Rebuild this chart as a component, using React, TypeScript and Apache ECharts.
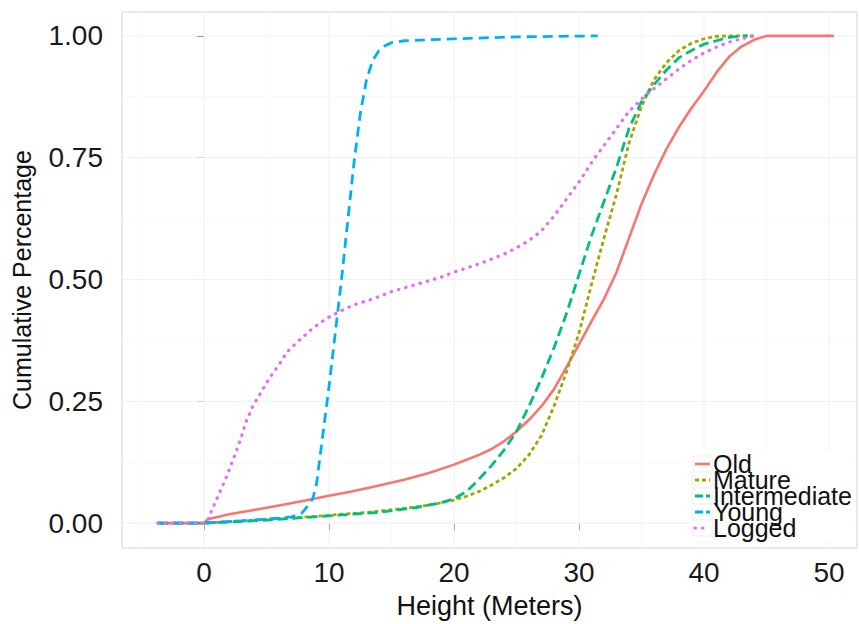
import React, { useEffect, useRef } from "react";
import * as echarts from "echarts";

const seriesNames = ["Old", "Mature", "Intermediate", "Young", "Logged"];
const seriesColors = ["#F8766D", "#A3A500", "#00BF7D", "#00B0F6", "#E76BF3"];

const xTicks = [0, 10, 20, 30, 40, 50];
const yTicks = [0, 0.25, 0.5, 0.75, 1];
const xGrid = [-5, 0, 5, 10, 15, 20, 25, 30, 35, 40, 45, 50];
const yGrid = [0, 0.125, 0.25, 0.375, 0.5, 0.625, 0.75, 0.875, 1];

const oldData = [
  [-3.7, 0], [0, 0], [0.3, 0.008], [1, 0.012], [2, 0.018], [4, 0.027], [6, 0.036], [8, 0.046],
  [10, 0.056], [12, 0.066], [14, 0.077], [16, 0.089], [18, 0.103], [20, 0.12], [21, 0.13],
  [22, 0.14], [23, 0.152], [24, 0.168], [25, 0.188], [26, 0.212], [27, 0.24], [28, 0.275],
  [29, 0.32], [30, 0.367], [31, 0.414], [32, 0.46], [33, 0.515], [34, 0.585], [35, 0.655],
  [36, 0.715], [37, 0.768], [38, 0.813], [39, 0.852], [40, 0.887], [41, 0.925], [42, 0.957],
  [43, 0.978], [44, 0.992], [45, 1], [46, 1], [50.4, 1],
];
const matureData = [
  [-3.7, 0], [0, 0], [2, 0.003], [5, 0.008], [8, 0.012], [10, 0.016], [13, 0.022], [16, 0.03],
  [18, 0.037], [20, 0.047], [21, 0.055], [22, 0.065], [23, 0.078], [24, 0.093], [25, 0.112],
  [26, 0.14], [27, 0.18], [28, 0.24], [29, 0.31], [30, 0.39], [31, 0.49], [32, 0.585],
  [33, 0.675], [34, 0.78], [35, 0.855], [36, 0.91], [37, 0.945], [38, 0.97], [39, 0.985],
  [40, 0.994], [41, 0.999], [42, 1], [44, 1],
];
const intermediateData = [
  [-3.7, 0], [0, 0], [5, 0.006], [10, 0.015], [14, 0.022], [17, 0.032], [19, 0.042],
  [20, 0.05], [21, 0.065], [22, 0.09], [23, 0.118], [24, 0.15], [25, 0.188], [26, 0.24],
  [27, 0.297], [28, 0.36], [29, 0.43], [30, 0.51], [31, 0.59], [32, 0.66], [33, 0.73],
  [34, 0.81], [35, 0.865], [36, 0.9], [37, 0.93], [38, 0.955], [39, 0.97], [40, 0.983],
  [41, 0.99], [42, 0.997], [43, 1], [43.5, 1],
];
const youngData = [
  [-3.7, 0], [0, 0], [2, 0.003], [4, 0.006], [5, 0.008], [6, 0.01], [7, 0.013], [7.8, 0.02],
  [8.3, 0.035], [8.7, 0.05], [9, 0.08], [9.5, 0.18], [10, 0.28], [10.5, 0.39], [11, 0.5],
  [11.5, 0.62], [12, 0.74], [12.5, 0.84], [13, 0.91], [13.5, 0.95], [14, 0.97], [14.5, 0.98],
  [15, 0.986], [16, 0.99], [20, 0.994], [25, 0.998], [31.5, 1],
];
const loggedData = [
  [-3.7, 0], [0, 0], [0.3, 0.005], [0.6, 0.025], [1.2, 0.06], [1.8, 0.095], [2.4, 0.135],
  [2.9, 0.17], [3.4, 0.21], [3.9, 0.24], [4.6, 0.27], [5.3, 0.3], [6, 0.325], [6.6, 0.35],
  [7.6, 0.375], [8.7, 0.4], [9.8, 0.42], [10.9, 0.435], [12, 0.448], [13.5, 0.46],
  [15, 0.475], [17, 0.49], [19, 0.505], [20, 0.515], [22, 0.532], [24, 0.552], [25, 0.565],
  [26, 0.58], [27, 0.6], [28, 0.63], [29, 0.665], [30, 0.7], [31, 0.74], [32, 0.775],
  [33, 0.81], [34, 0.845], [35, 0.87], [36, 0.892], [37, 0.912], [38, 0.932], [39, 0.95],
  [40, 0.965], [41, 0.977], [42, 0.987], [43, 0.994], [44, 1],
];

const allData = [oldData, matureData, intermediateData, youngData, loggedData];
const lineTypes: any[] = ["solid", [4, 3], [10, 5], [10, 6], [0.5, 7]];
const lineCaps: any[] = ["butt", "butt", "butt", "butt", "round"];
const lineWidths = [2.6, 2.8, 2.8, 2.8, 3.2];

const X_MIN = -6.56;
const X_MAX = 52.24;
const Y_MIN = -0.0511;
const Y_MAX = 1.049;

const FONT = "'Liberation Sans', Arial, Helvetica, sans-serif";

export default function App() {
  const ref = useRef<HTMLDivElement>(null);
  useEffect(() => {
    if (!ref.current) return;
    const chart = echarts.init(ref.current, null, { renderer: "svg" });
    const series: any[] = seriesNames.map((name, i) => ({
      name,
      type: "line",
      data: allData[i],
      showSymbol: false,
      symbol: "none",
      z: 3 + i,
      color: seriesColors[i],
      lineStyle: { color: seriesColors[i], width: lineWidths[i], type: lineTypes[i], cap: lineCaps[i], join: "round" },
    }));
    const gridData = [
      ...xGrid.map((v) => [0, v]),
      ...yGrid.map((v) => [1, v]),
    ];
    series.unshift({
      name: "gridlines",
      type: "custom",
      data: gridData,
      z: 1,
      silent: true,
      clip: true,
      renderItem: (params: any, api: any) => {
        const kind = api.value(0);
        const v = api.value(1);
        const major = kind === 0 ? v % 10 === 0 : Math.round(v * 8) % 2 === 0;
        const p1 = kind === 0 ? api.coord([v, Y_MIN]) : api.coord([X_MIN, v]);
        const p2 = kind === 0 ? api.coord([v, Y_MAX]) : api.coord([X_MAX, v]);
        return {
          type: "line",
          shape: { x1: p1[0], y1: p1[1], x2: p2[0], y2: p2[1] },
          style: { stroke: major ? "#f0f0f0" : "#f8f8f8", lineWidth: 1 },
        };
      },
    });

    const legendX = 693;
    const legendRowY = [464, 480, 496, 512, 528];
    const legendElements: any[] = [
      {
        type: "rect",
        shape: { x: 690, y: 452, width: 164, height: 88 },
        style: { fill: "#ffffff", stroke: "none" },
        z: 50,
      },
    ];
    seriesNames.forEach((name, i) => {
      const y = legendRowY[i];
      legendElements.push({
        type: "rect",
        shape: { x: legendX, y: y - 8, width: 19, height: 16 },
        style: { fill: "#ffffff", stroke: "#eeeeee", lineWidth: 1 },
        z: 51,
      });
      legendElements.push({
        type: "line",
        shape: { x1: legendX + 2, y1: y, x2: legendX + 17, y2: y },
        style: {
          stroke: seriesColors[i],
          lineWidth: lineWidths[i],
          lineDash: lineTypes[i] === "solid" ? null : i === 4 ? [0.5, 7] : i === 1 ? [4, 3] : [8, 3],
          lineCap: lineCaps[i],
        },
        z: 52,
      });
    });
    seriesNames.forEach((name, i) => {
      legendElements.push({
        type: "text",
        x: legendX + 20,
        y: legendRowY[i],
        style: {
          text: name,
          fontSize: 25,
          fontFamily: FONT,
          fill: "#111111",
          verticalAlign: "middle",
          align: "left",
        },
        z: 53,
      });
    });

    chart.setOption({
      animation: false,
      backgroundColor: "#ffffff",
      grid: {
        left: 122,
        top: 12,
        right: 2,
        bottom: 74,
        show: true,
        borderColor: "#d4d4d4",
        borderWidth: 1,
        backgroundColor: "#ffffff",
      },
      graphic: legendElements,
      xAxis: {
        type: "value",
        min: X_MIN,
        max: X_MAX,
        name: "Height (Meters)",
        nameLocation: "middle",
        nameGap: 44,
        nameTextStyle: { fontSize: 27, color: "#111", fontFamily: FONT },
        axisLine: { show: false },
        axisTick: { show: true, customValues: xTicks, length: 7, lineStyle: { color: "#666" } },
        axisLabel: {
          customValues: xTicks,
          fontSize: 28,
          color: "#1a1a1a",
          fontFamily: FONT,
          margin: 10,
        },
        splitLine: { show: false },
      },
      yAxis: {
        type: "value",
        min: Y_MIN,
        max: Y_MAX,
        name: "Cumulative Percentage",
        nameLocation: "middle",
        nameGap: 88,
        nameTextStyle: { fontSize: 25, color: "#111", fontFamily: FONT },
        axisLine: { show: false },
        axisTick: { show: true, customValues: yTicks, length: 7, lineStyle: { color: "#666" } },
        axisLabel: {
          customValues: yTicks,
          fontSize: 28,
          color: "#1a1a1a",
          fontFamily: FONT,
          margin: 19,
          formatter: (v: number) => v.toFixed(2),
        },
        splitLine: { show: false },
      },
      series,
    });
    return () => chart.dispose();
  }, []);
  return <div ref={ref} style={{ position: "fixed", left: 0, top: 0, width: 859, height: 624 }} />;
}
